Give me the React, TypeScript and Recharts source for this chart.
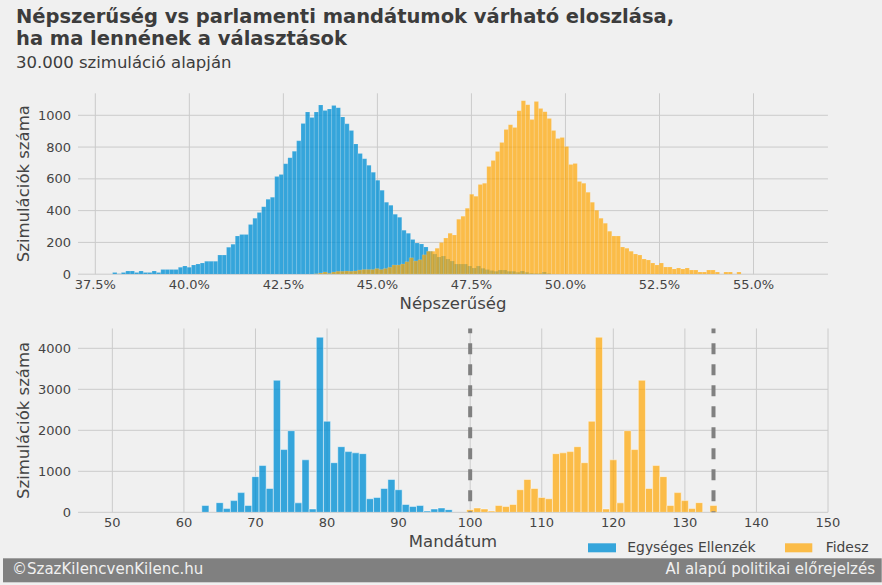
import React from 'react';
import { BarChart, Bar, XAxis, YAxis, CartesianGrid, ReferenceLine } from 'recharts';

// ---- Top chart: popularity histograms (bins) ----
const BLUE_START = 37.96;
const BLUE_BIN = 0.1165;
const ORANGE_START = 43.21;
const ORANGE_BIN = 0.1146;

const popularityBlue = [
  10, 3, 10, 20, 20, 10, 20, 10, 10, 20,
  10, 30, 30, 30, 30, 43, 52, 43, 58, 64,
  70, 81, 81, 81, 120, 120, 170, 189, 240, 250,
  250, 313, 352, 388, 425, 471, 484, 614, 627, 695,
  733, 773, 839, 948, 1021, 986, 1021, 1065, 1030, 1040,
  1061, 1048, 990, 946, 904, 820, 760, 726, 685, 641,
  591, 528, 453, 434, 377, 358, 277, 257, 219, 196,
  190, 171, 145, 127, 108, 114, 95, 83, 64, 64,
  64, 52, 39, 52, 37, 30, 24, 18, 26, 26,
  18, 18, 12, 20, 12, 6, 5, 5, 14, 4,
];

const popularityOrange = [
  0, 3, 8, 14, 6, 14, 18, 18, 20, 18,
  20, 26, 30, 30, 30, 36, 30, 36, 43, 58,
  58, 64, 79, 104, 83, 91, 122, 145, 145, 164,
  200, 227, 258, 246, 346, 365, 415, 503, 490, 565,
  572, 678, 716, 772, 829, 910, 941, 923, 1029, 1092,
  1067, 973, 1086, 1042, 1023, 979, 904, 854, 860, 804,
  691, 697, 584, 572, 515, 453, 402, 352, 321, 271,
  240, 240, 171, 164, 145, 127, 120, 95, 89, 70,
  58, 70, 45, 45, 33, 39, 33, 39, 26, 26,
  14, 14, 26, 26, 14, 0, 14, 14, 0, 14,
];

const popularityTicks = [37.5, 40, 42.5, 45, 47.5, 50, 52.5, 55];
const popularityCountTicks = [0, 200, 400, 600, 800, 1000];

// ---- Bottom chart: seats ----
const seatsBlue = [
  63, 64, 65, 66, 67, 68, 69, 70, 71, 72, 73, 74, 75, 76, 77, 78, 79, 80,
  81, 82, 83, 84, 85, 86, 87, 88, 89, 90, 91, 92, 93, 94, 95, 96, 97,
];
const seatCountsBlue = [
  165, 0, 235, 90, 285, 480, 165, 870, 1140, 580, 3220, 1530, 1990, 230, 1280, 80, 4270, 2220,
  1210, 1600, 1480, 1450, 1430, 330, 360, 580, 800, 550, 190, 140, 165, 30, 80, 105, 65,
];
const seatsOrange = [
  100, 101, 102, 103, 104, 105, 106, 107, 108, 109, 110, 111, 112, 113, 114, 115, 116, 117,
  118, 119, 120, 121, 122, 123, 124, 125, 126, 127, 128, 129, 130, 131, 132, 133, 134,
];
const seatCountsOrange = [
  65, 105, 80, 30, 165, 140, 190, 550, 800, 580, 360, 330, 1430, 1450, 1480, 1600, 1210, 2220,
  4270, 80, 1280, 230, 1990, 1530, 3220, 580, 1140, 870, 165, 480, 285, 90, 235, 0, 165,
];
const seatTicks = [50, 60, 70, 80, 90, 100, 110, 120, 130, 140, 150];
const seatCountTicks = [0, 1000, 2000, 3000, 4000];
const majorityLines = [100, 134];

const seriesNames = ['Egységes Ellenzék', 'Fidesz'];

// tables built from the arrays
const popBlueTable = popularityBlue.map((v, i) => ({ x: BLUE_START + (i + 0.5) * BLUE_BIN, value: v }));
const popOrangeTable = popularityOrange.map((v, i) => ({ x: ORANGE_START + (i + 0.5) * ORANGE_BIN, value: v }));
const seatBlueTable = seatsBlue.map((s, i) => ({ x: s, value: seatCountsBlue[i] }));
const seatOrangeTable = seatsOrange.map((s, i) => ({ x: s, value: seatCountsOrange[i] }));

const FONT = 'DejaVu Sans';
const TEXT = '#3c3c3c';
const TICK = { fill: '#444444', fontSize: 13, fontFamily: FONT };
const BLUE = '#008fd5';
const BLUE_OP = 0.78;
const ORANGE = '#ffa500';
const ORANGE_OP = 0.7;
const GRID = '#cbcbcb';

const W = 882;
const PLOT_LEFT = 78;
const RIGHT = 54;
const XAXIS_H = 30;

type PanelProps = {
  top: number;
  height: number;
  marginTop: number;
  xDomain: [number, number];
  yDomain: [number, number];
  xTicks: number[];
  yTicks: number[];
  xFormat?: (v: number) => string;
  base: { x: number; value: number }[];
  over: { x: number; value: number }[];
  baseSize: number;
  overSize: number;
  stroke: { opacity: number; width: number };
  refLines?: number[];
};

function Panel(p: PanelProps) {
  return (
    <>
      <div style={{ position: 'absolute', left: 0, top: p.top }}>
        <BarChart
          width={W}
          height={p.height}
          data={p.base}
          margin={{ top: p.marginTop, right: RIGHT, bottom: 0, left: 0 }}
          style={{ fontFamily: FONT }}
        >
          <CartesianGrid stroke={GRID} strokeWidth={1} syncWithTicks />
          <XAxis
            dataKey="x"
            type="number"
            domain={p.xDomain}
            allowDataOverflow
            ticks={p.xTicks}
            interval={0}
            tickFormatter={p.xFormat}
            axisLine={false}
            tickLine={false}
            tickSize={0}
            tickMargin={5.3}
            height={XAXIS_H}
            tick={TICK}
          />
          <YAxis
            type="number"
            domain={p.yDomain}
            allowDataOverflow
            ticks={p.yTicks}
            interval={0}
            width={PLOT_LEFT}
            axisLine={false}
            tickLine={false}
            tickSize={0}
            tickMargin={7}
            tick={TICK}
          />
          <Bar
            dataKey="value"
            fill={BLUE}
            fillOpacity={BLUE_OP}
            stroke="#ffffff"
            strokeOpacity={p.stroke.opacity}
            strokeWidth={p.stroke.width}
            barSize={p.baseSize}
            isAnimationActive={false}
          />
        </BarChart>
      </div>
      <div style={{ position: 'absolute', left: 0, top: p.top }}>
        <BarChart
          width={W}
          height={p.height}
          data={p.over}
          margin={{ top: p.marginTop, right: RIGHT, bottom: XAXIS_H, left: PLOT_LEFT }}
          style={{ fontFamily: FONT }}
        >
          <XAxis dataKey="x" type="number" domain={p.xDomain} allowDataOverflow hide />
          <YAxis type="number" domain={p.yDomain} allowDataOverflow hide />
          <Bar
            dataKey="value"
            fill={ORANGE}
            fillOpacity={ORANGE_OP}
            stroke="#ffffff"
            strokeOpacity={p.stroke.opacity}
            strokeWidth={p.stroke.width}
            barSize={p.overSize}
            isAnimationActive={false}
          />
          {(p.refLines || []).map((m) => (
            <ReferenceLine
              key={m}
              x={m}
              stroke="#808080"
              strokeWidth={4}
              strokeDasharray="11 10"
              strokeDashoffset={10}
            />
          ))}
        </BarChart>
      </div>
    </>
  );
}

export default function App() {
  return (
    <div
      style={{
        position: 'fixed',
        left: 0,
        top: 0,
        width: 882,
        height: 585,
        background: '#f0f0f0',
        overflow: 'hidden',
        fontFamily: FONT,
      }}
    >
      <Panel
        top={0}
        height={304.2}
        marginTop={93.3}
        xDomain={[37.04, 56.98]}
        yDomain={[0, 1138.4]}
        xTicks={popularityTicks}
        yTicks={popularityCountTicks}
        xFormat={(v: number) => `${v.toFixed(1)}%`}
        base={popBlueTable}
        over={popOrangeTable}
        baseSize={4.35}
        overSize={4.28}
        stroke={{ opacity: 0.25, width: 0.5 }}
      />
      <Panel
        top={300}
        height={242.3}
        marginTop={28.5}
        xDomain={[45.2, 150]}
        yDomain={[0, 4483]}
        xTicks={seatTicks}
        yTicks={seatCountTicks}
        base={seatBlueTable}
        over={seatOrangeTable}
        baseSize={7.1}
        overSize={7.1}
        stroke={{ opacity: 0.55, width: 0.8 }}
        refLines={majorityLines}
      />

      <svg
        width={882}
        height={585}
        style={{ position: 'absolute', left: 0, top: 0, pointerEvents: 'none' }}
        fontFamily={FONT}
      >
        <text x={16} y={23.3} fontSize={19.5} fontWeight="bold" fill={TEXT}>
          Népszerűség vs parlamenti mandátumok várható eloszlása,
        </text>
        <text x={16} y={45} fontSize={19.5} fontWeight="bold" fill={TEXT}>
          ha ma lennének a választások
        </text>
        <text x={16} y={68.3} fontSize={16.5} fill={TEXT}>
          30.000 szimuláció alapján
        </text>

        <text
          x={29.3}
          y={183.7}
          fontSize={16.5}
          fill="#444444"
          textAnchor="middle"
          transform="rotate(-90, 29.3, 183.7)"
        >
          Szimulációk száma
        </text>
        <text
          x={29.3}
          y={420.4}
          fontSize={16.5}
          fill="#444444"
          textAnchor="middle"
          transform="rotate(-90, 29.3, 420.4)"
        >
          Szimulációk száma
        </text>
        <text x={453} y={308.8} fontSize={16.5} fill="#444444" textAnchor="middle">
          Népszerűség
        </text>
        <text x={453} y={546.6} fontSize={16.5} fill="#444444" textAnchor="middle">
          Mandátum
        </text>

        <rect x={588} y={543.3} width={28} height={9} fill={BLUE} fillOpacity={BLUE_OP} />
        <text x={627.3} y={552.3} fontSize={13.9} fill="#444444">
          {seriesNames[0]}
        </text>
        <rect x={785} y={543.3} width={27.3} height={9} fill={ORANGE} fillOpacity={ORANGE_OP} />
        <text x={825.7} y={552.3} fontSize={13.9} fill="#444444">
          {seriesNames[1]}
        </text>

        <rect x={3} y={558.3} width={878.7} height={24} fill="#808080" />
        <text x={12} y={574} fontSize={15} fill="#f0f0f0">
          ©SzazKilencvenKilenc.hu
        </text>
        <text x={875} y={574} fontSize={15} fill="#f0f0f0" textAnchor="end">
          AI alapú politikai előrejelzés
        </text>
      </svg>
    </div>
  );
}
